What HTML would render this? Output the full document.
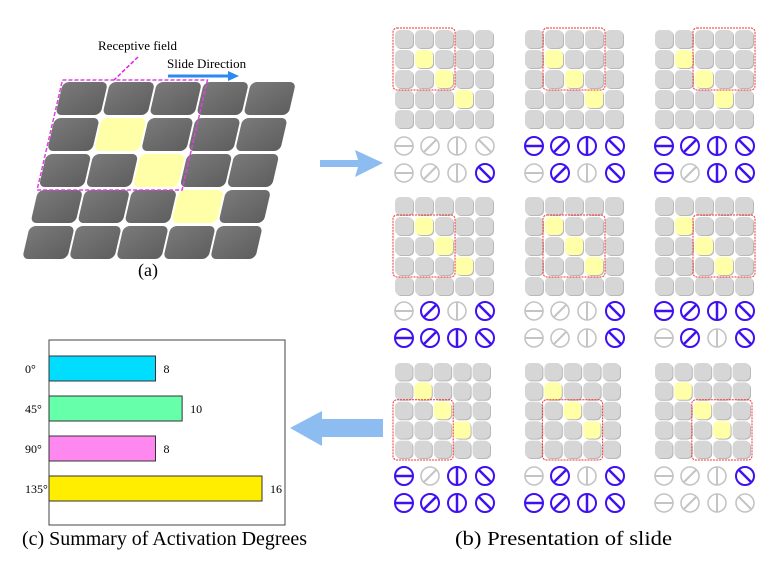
<!DOCTYPE html>
<html><head><meta charset="utf-8"><style>
html,body{margin:0;padding:0;background:#fff;}
svg{display:block;font-family:"Liberation Serif",serif;}
</style></head><body>
<svg width="782" height="566" viewBox="0 0 782 566" xmlns="http://www.w3.org/2000/svg">
<defs>
<linearGradient id="dg" x1="0" y1="0" x2="1" y2="1"><stop offset="0" stop-color="#7a7a7a"/><stop offset="1" stop-color="#5e5e5e"/></linearGradient>
</defs>
<g id="partA">
<g transform="translate(0,82) skewX(-13) translate(0,-82)" id="skewgrid"></g>
<text x="98" y="50" font-size="13">Receptive field</text>
<line x1="138" y1="57" x2="114" y2="80" stroke="#e020e0" stroke-width="1.5" stroke-dasharray="4,2"/>
<text x="167" y="68" font-size="13">Slide Direction</text>
<g><line x1="168" y1="76" x2="230" y2="76" stroke="#2a8af0" stroke-width="3"/><polygon points="228,71 239,76 228,81" fill="#2a8af0"/></g>
<text x="148" y="276" font-size="18" text-anchor="middle">(a)</text>
</g>
<polygon points="320,160 358,160 355,150 383,163 355,177 358,167 320,167" fill="#8cbcf0"/>
<polygon points="383,419 322,419 322,411 290,428 322,446 322,437 383,437" fill="#8cbcf0"/>
<g id="partB"></g>
<g id="chart">
<rect x="49" y="340" width="236" height="185" fill="none" stroke="#444" stroke-width="1"/>
</g>
<text x="22" y="545" font-size="20" textLength="285" lengthAdjust="spacingAndGlyphs">(c) Summary of Activation Degrees</text>
<text x="455" y="545" font-size="20" textLength="217" lengthAdjust="spacingAndGlyphs">(b) Presentation of slide</text>
</svg>
<script>
const NS='http://www.w3.org/2000/svg';
function mk(tag,attrs,parent){const e=document.createElementNS(NS,tag);for(const k in attrs)e.setAttribute(k,attrs[k]);parent.appendChild(e);return e;}
// Part A
const sg=document.getElementById('skewgrid');
const yellowA=[[1,1],[2,2],[3,3]];
for(let r=0;r<5;r++)for(let c=0;c<5;c++){
 const y=yellowA.some(p=>p[0]==c&&p[1]==r);
 const e=mk('rect',{x:63+47*c,y:82+36*r,width:45,height:33,rx:6,fill:y?'#ffffa8':'url(#dg)'},sg);
 
 
}
const rf=mk('rect',{x:62,y:80,width:145,height:110,fill:'none',stroke:'#e040e0','stroke-width':1.5,'stroke-dasharray':'4,2'},sg);


// Part B
const B=document.getElementById('partB');
const panelX=[395,525,655];
const panelY=[30,197,363];
const circRowY=[[146,173],[311,338],[476,503]];
const circX=[9,35,62,90];
const acts=[
 ['0000','0001'],['1111','0101'],['1111','1011'],
 ['0101','1111'],['0001','0001'],['1111','0101'],
 ['1011','1111'],['0101','1111'],['0001','0000']];
const yellowB=[[1,1],[2,2],[3,3]];
for(let pr=0;pr<3;pr++)for(let pc=0;pc<3;pc++){
 const g=mk('g',{},B);
 
 
 const x0=panelX[pc],y0=panelY[pr],p=pr==2?19.4:20;
 for(let r=0;r<5;r++)for(let c=0;c<5;c++){
  const y=yellowB.some(q=>q[0]==c&&q[1]==r);
  mk('rect',{x:x0+p*c+1,y:y0+p*r+1,width:p-2,height:p-2,rx:5,fill:'#b8b8b8'},g);
  const e=mk('rect',{x:x0+p*c,y:y0+p*r,width:p-2,height:p-2,rx:5,fill:y?'#ffffa8':'#d6d6d6'},g);
  
  
 }
 const box=mk('rect',{x:x0-2+p*pc,y:y0-2+p*pr,width:3*p+2,height:3*p+2,rx:4,fill:'none',stroke:'#f03030','stroke-width':1,'stroke-dasharray':'2,1'},g);
 
 
 const a=acts[pr*3+pc];
 for(let rr=0;rr<2;rr++)for(let k=0;k<4;k++){
  const on=a[rr][k]=='1';
  const col=on?'#4010f0':'#c4c4c4';
  const cx=x0+circX[k],cy=circRowY[pr][rr],R=9;
  const cg=mk('g',{stroke:col,'stroke-width':on?2:1.6,fill:'none'},g);
  
  
  mk('circle',{cx:cx,cy:cy,r:R},cg);
  const ang=[0,-45,90,45][k]*Math.PI/180;
  const dx=Math.cos(ang)*R,dy=Math.sin(ang)*R;
  mk('line',{x1:cx-dx,y1:cy-dy,x2:cx+dx,y2:cy+dy,'stroke-width':on?2.5:2},cg);
 }
}
// Part C chart
const categories=['0°','45°','90°','135°'];
const values=[8,10,8,16];
const colors=['#00ddff','#66ffaa','#ff88f0','#ffee00'];
const C=document.getElementById('chart');
const x0=49,scale=(262-49)/16;
const xs=v=>x0+v*scale;
const ys=i=>356+i*40;
categories.forEach((cat,i)=>{
 const r=mk('rect',{x:x0,y:ys(i),width:xs(values[i])-x0,height:25,fill:colors[i],stroke:'#333','stroke-width':1},C);
 
 
 const l=mk('text',{x:25,y:ys(i)+17,'font-size':12},C);l.textContent=cat;
 
 
 const v=mk('text',{x:xs(values[i])+8,y:ys(i)+17,'font-size':12},C);v.textContent=values[i];
 
 
});
</script>
</body></html>
